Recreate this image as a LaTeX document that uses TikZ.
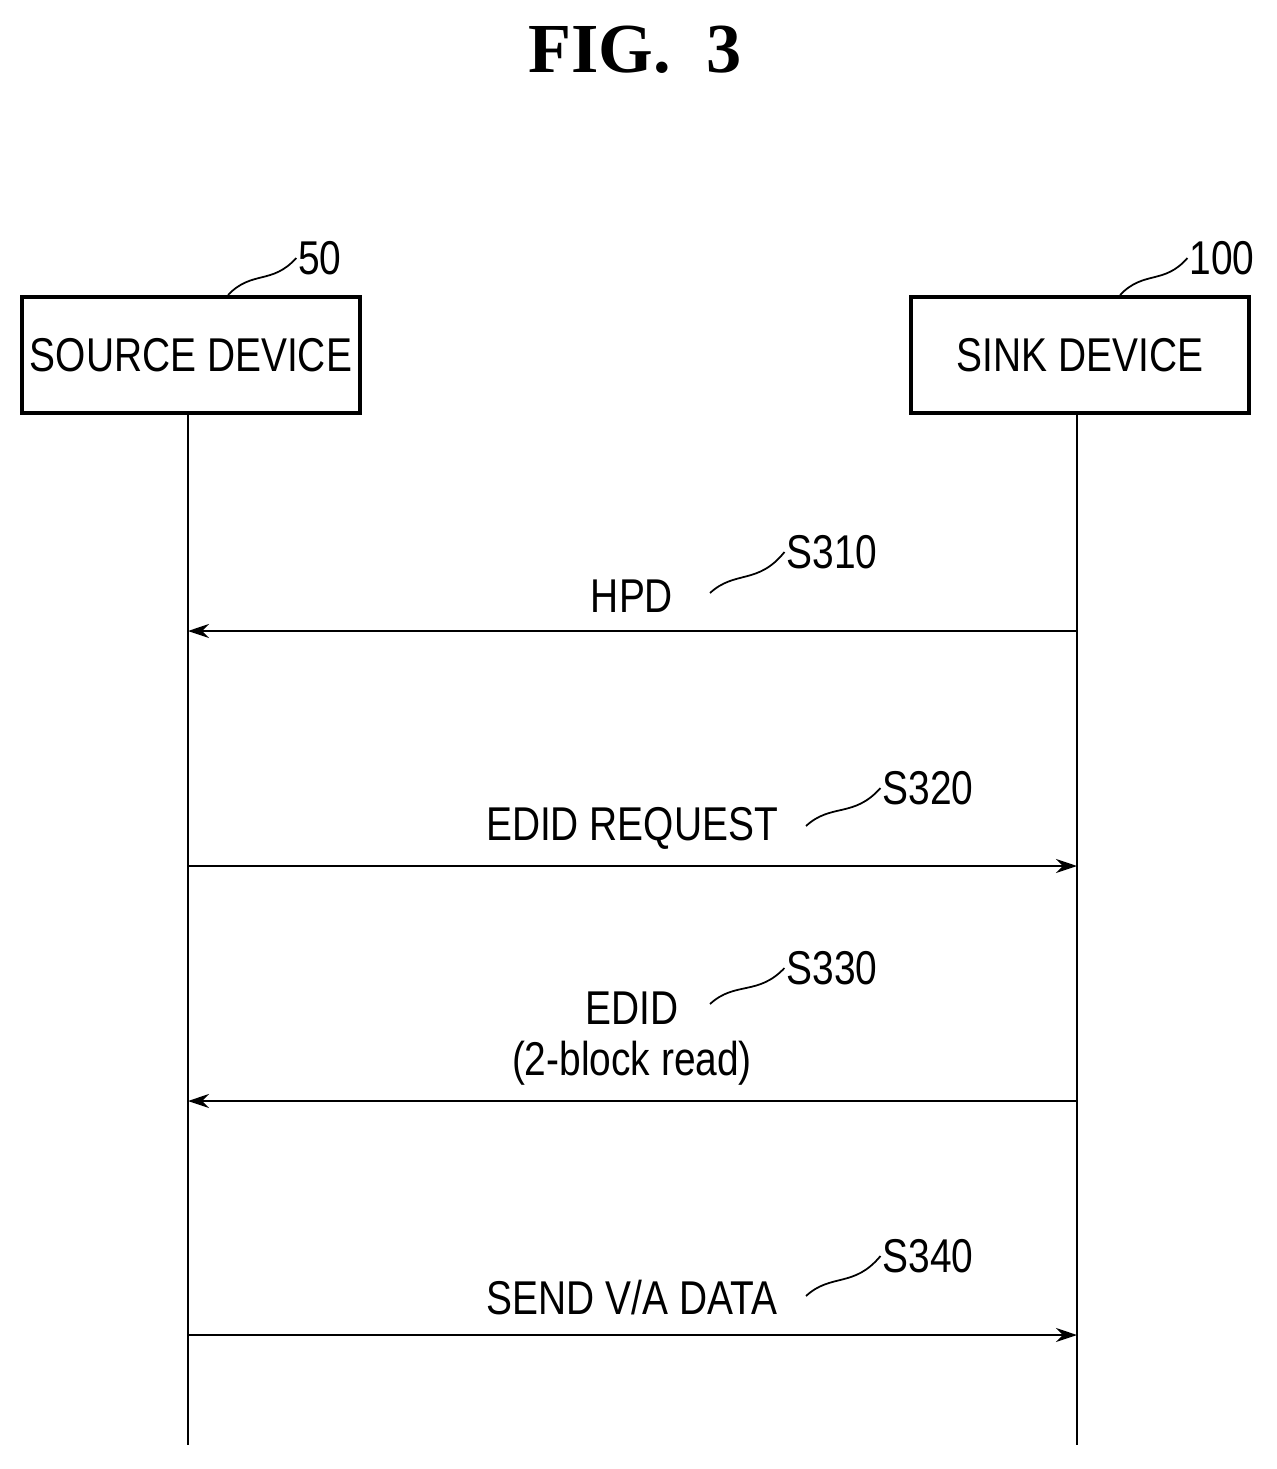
\documentclass[tikz,border=0pt]{standalone}
\usepackage{fontspec}
\usepackage{graphicx}
\setmainfont{Liberation Sans}
\newfontfamily\titlefont{Liberation Serif}
\newcommand{\narrowtxt}[1]{\scalebox{0.82}[1]{#1}}
\usetikzlibrary{arrows.meta}
\tikzset{
  device/.style={draw,line width=1.8pt,minimum width=6.76cm,minimum height=2.32cm,inner sep=0pt,font=\fontsize{27}{30}\selectfont},
  lifeline/.style={line width=1.1pt},
  msg/.style={line width=1.1pt,-{Stealth[length=12pt,width=8pt]}},
  lbl/.style={font=\fontsize{27}{32}\selectfont,align=center,inner sep=1pt},
  squig/.style={line width=1pt}
}
\begin{document}
\begin{tikzpicture}[x=0.02cm,y=-0.02cm]
  \useasboundingbox (0,0) rectangle (1276,1469);
  \node[font=\titlefont\bfseries\fontsize{40}{44}\selectfont] (title) at (635,50) {FIG.\ \ 3};
  % devices
  \node[device] (src) at (191,355) {\narrowtxt{SOURCE DEVICE}};
  \node[device] (snk) at (1080,355) {\narrowtxt{SINK DEVICE}};
  \node[lbl] (n50) at (320,258) {\narrowtxt{50}};
  \node[lbl] (n100) at (1222,258) {\narrowtxt{100}};
  \draw[squig] (228,295) .. controls (252,270) and (272,285) .. (n50.west);
  \draw[squig] (1120,295) .. controls (1144,270) and (1164,285) .. (n100.west);
  % lifelines
  \coordinate (srcend) at (188,1445);
  \coordinate (snkend) at (1077,1445);
  \draw[lifeline] (188,413) -- (srcend);
  \draw[lifeline] (1077,413) -- (snkend);
  % messages
  \foreach \y in {631,866,1101,1335}{
    \coordinate (a\y) at (188,\y);
    \coordinate (b\y) at (1077,\y);
  }
  \draw[msg] (b631) -- (a631);
  \draw[msg] (a866) -- (b866);
  \draw[msg] (b1101) -- (a1101);
  \draw[msg] (a1335) -- (b1335);
  % labels
  \node[lbl] (hpd) at (632,596) {\narrowtxt{HPD}};
  \node[lbl] (s310) at (832,552) {\narrowtxt{S310}};
  \node[lbl] (req) at (632,828) {\narrowtxt{EDID REQUEST}};
  \node[lbl] (s320) at (928,788) {\narrowtxt{S320}};
  \node[lbl] (edid) at (632,1008) {\narrowtxt{EDID}};
  \node[lbl] (blk) at (632,1063) {\narrowtxt{(2-block read)}};
  \node[lbl] (s330) at (832,968) {\narrowtxt{S330}};
  \node[lbl] (send) at (632,1298) {\narrowtxt{SEND V/A DATA}};
  \node[lbl] (s340) at (928,1256) {\narrowtxt{S340}};
  \draw[squig] (710,593) .. controls (735,570) and (758,585) .. (s310.west);
  \draw[squig] (806,826) .. controls (831,803) and (854,818) .. (s320.west);
  \draw[squig] (710,1004) .. controls (735,981) and (758,996) .. (s330.west);
  \draw[squig] (806,1296) .. controls (831,1273) and (854,1288) .. (s340.west);
\end{tikzpicture}
\end{document}
